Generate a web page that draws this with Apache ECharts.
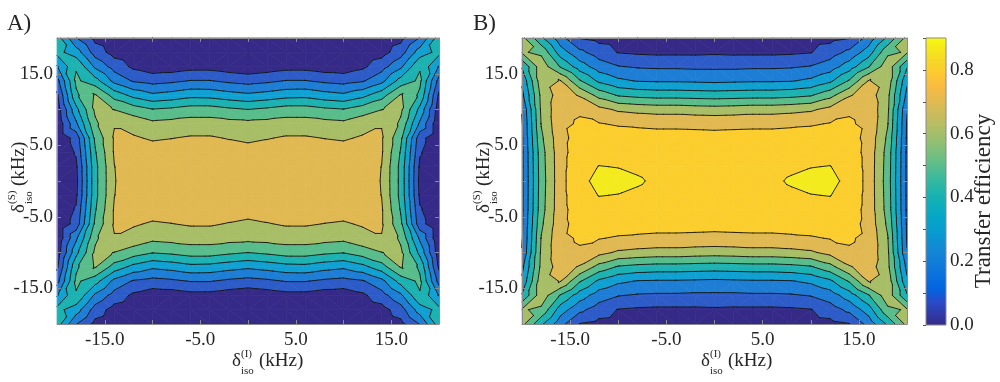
<!DOCTYPE html>
<html><head><meta charset="utf-8">
<script src="https://cdn.jsdelivr.net/npm/echarts@6/dist/echarts.min.js"></script>
<style>html,body{margin:0;padding:0;background:#fff}#c{width:1000px;height:382px}</style>
</head><body><div id="c"></div>
<script>
// grid coordinates (kHz)
const xVals = [-20,-18,-16,-14,-12,-10,-8,-6,-4,-2,0,2,4,6,8,10,12,14,16,18,20];
const yVals = [20,18,16,14,12,10,8,6,4,2,0,-2,-4,-6,-8,-10,-12,-14,-16,-18,-20];

// Panel A transfer efficiency (rows follow yVals, columns follow xVals)
const effA = [
[0.45,0.205,0.07,0.03,0.02,0.015,0.015,0.015,0.015,0.015,0.015,0.015,0.015,0.015,0.015,0.015,0.02,0.03,0.07,0.205,0.45],
[0.43,0.35,0.155,0.06,0.03,0.02,0.02,0.02,0.02,0.02,0.02,0.02,0.02,0.02,0.02,0.02,0.03,0.06,0.155,0.35,0.43],
[0.29,0.49,0.28,0.16,0.08,0.04,0.045,0.065,0.065,0.045,0.03,0.045,0.065,0.065,0.045,0.04,0.08,0.16,0.28,0.49,0.29],
[0.16,0.52,0.44,0.27,0.19,0.165,0.18,0.205,0.205,0.18,0.163,0.18,0.205,0.205,0.18,0.165,0.19,0.27,0.44,0.52,0.16],
[0.08,0.48,0.61,0.46,0.37,0.32,0.34,0.37,0.365,0.34,0.32,0.34,0.365,0.37,0.34,0.32,0.37,0.46,0.61,0.48,0.08],
[0.04,0.37,0.62,0.598,0.55,0.505,0.52,0.545,0.545,0.52,0.501,0.52,0.545,0.545,0.52,0.505,0.55,0.598,0.62,0.37,0.04],
[0.02,0.28,0.58,0.695,0.665,0.625,0.635,0.645,0.645,0.635,0.63,0.635,0.645,0.645,0.635,0.625,0.665,0.695,0.58,0.28,0.02],
[0.02,0.136,0.52,0.71,0.71,0.69,0.698,0.71,0.71,0.695,0.68,0.695,0.71,0.71,0.698,0.69,0.71,0.71,0.52,0.136,0.02],
[0.02,0.11,0.49,0.71,0.745,0.74,0.745,0.75,0.75,0.745,0.74,0.745,0.75,0.75,0.745,0.74,0.745,0.71,0.49,0.11,0.02],
[0.02,0.08,0.47,0.698,0.755,0.765,0.77,0.77,0.77,0.767,0.765,0.767,0.77,0.77,0.77,0.765,0.755,0.698,0.47,0.08,0.02],
[0.02,0.07,0.47,0.695,0.755,0.765,0.77,0.775,0.775,0.772,0.77,0.772,0.775,0.775,0.77,0.765,0.755,0.695,0.47,0.07,0.02],
[0.02,0.08,0.47,0.698,0.755,0.765,0.77,0.77,0.77,0.767,0.765,0.767,0.77,0.77,0.77,0.765,0.755,0.698,0.47,0.08,0.02],
[0.02,0.11,0.49,0.71,0.745,0.74,0.745,0.75,0.75,0.745,0.74,0.745,0.75,0.75,0.745,0.74,0.745,0.71,0.49,0.11,0.02],
[0.02,0.136,0.52,0.71,0.71,0.69,0.698,0.71,0.71,0.695,0.68,0.695,0.71,0.71,0.698,0.69,0.71,0.71,0.52,0.136,0.02],
[0.02,0.28,0.58,0.695,0.665,0.625,0.635,0.645,0.645,0.635,0.63,0.635,0.645,0.645,0.635,0.625,0.665,0.695,0.58,0.28,0.02],
[0.04,0.37,0.62,0.598,0.55,0.505,0.52,0.545,0.545,0.52,0.501,0.52,0.545,0.545,0.52,0.505,0.55,0.598,0.62,0.37,0.04],
[0.08,0.48,0.61,0.46,0.37,0.32,0.34,0.37,0.365,0.34,0.32,0.34,0.365,0.37,0.34,0.32,0.37,0.46,0.61,0.48,0.08],
[0.16,0.52,0.44,0.27,0.19,0.165,0.18,0.205,0.205,0.18,0.163,0.18,0.205,0.205,0.18,0.165,0.19,0.27,0.44,0.52,0.16],
[0.29,0.49,0.28,0.16,0.08,0.04,0.045,0.065,0.065,0.045,0.03,0.045,0.065,0.065,0.045,0.04,0.08,0.16,0.28,0.49,0.29],
[0.43,0.35,0.155,0.06,0.03,0.02,0.02,0.02,0.02,0.02,0.02,0.02,0.02,0.02,0.02,0.02,0.03,0.06,0.155,0.35,0.43],
[0.45,0.205,0.07,0.03,0.02,0.015,0.015,0.015,0.015,0.015,0.015,0.015,0.015,0.015,0.015,0.015,0.02,0.03,0.07,0.205,0.45]
];

// Panel B transfer efficiency
const effB = [
[0.63,0.42,0.235,0.095,0.07,0.06,0.055,0.05,0.05,0.05,0.05,0.05,0.05,0.05,0.055,0.06,0.07,0.095,0.235,0.42,0.63],
[0.61,0.58,0.35,0.225,0.15,0.095,0.085,0.08,0.08,0.08,0.085,0.08,0.08,0.08,0.085,0.095,0.15,0.225,0.35,0.58,0.61],
[0.41,0.66,0.49,0.35,0.25,0.205,0.19,0.185,0.185,0.18,0.18,0.18,0.185,0.185,0.19,0.205,0.25,0.35,0.49,0.66,0.41],
[0.32,0.66,0.705,0.51,0.38,0.32,0.295,0.29,0.29,0.285,0.28,0.285,0.29,0.29,0.295,0.32,0.38,0.51,0.705,0.66,0.32],
[0.27,0.625,0.75,0.69,0.565,0.49,0.47,0.46,0.46,0.455,0.45,0.455,0.46,0.46,0.47,0.49,0.565,0.69,0.75,0.625,0.27],
[0.205,0.617,0.775,0.79,0.73,0.685,0.67,0.66,0.66,0.65,0.645,0.65,0.66,0.66,0.67,0.685,0.73,0.79,0.775,0.617,0.205],
[0.19,0.605,0.78,0.81,0.805,0.79,0.785,0.78,0.78,0.778,0.775,0.778,0.78,0.78,0.785,0.79,0.805,0.81,0.78,0.605,0.19],
[0.185,0.58,0.77,0.84,0.85,0.85,0.84,0.835,0.835,0.832,0.83,0.832,0.835,0.835,0.84,0.85,0.85,0.84,0.77,0.58,0.185],
[0.18,0.56,0.765,0.855,0.875,0.87,0.86,0.85,0.845,0.84,0.84,0.84,0.845,0.85,0.86,0.87,0.875,0.855,0.765,0.56,0.18],
[0.18,0.555,0.765,0.87,0.902,0.898,0.885,0.87,0.86,0.855,0.855,0.855,0.86,0.87,0.885,0.898,0.902,0.87,0.765,0.555,0.18],
[0.18,0.55,0.765,0.885,0.915,0.92,0.91,0.885,0.87,0.865,0.86,0.865,0.87,0.885,0.91,0.92,0.915,0.885,0.765,0.55,0.18],
[0.18,0.555,0.765,0.87,0.902,0.898,0.885,0.87,0.86,0.855,0.855,0.855,0.86,0.87,0.885,0.898,0.902,0.87,0.765,0.555,0.18],
[0.18,0.56,0.765,0.855,0.875,0.87,0.86,0.85,0.845,0.84,0.84,0.84,0.845,0.85,0.86,0.87,0.875,0.855,0.765,0.56,0.18],
[0.185,0.58,0.77,0.84,0.85,0.85,0.84,0.835,0.835,0.832,0.83,0.832,0.835,0.835,0.84,0.85,0.85,0.84,0.77,0.58,0.185],
[0.19,0.605,0.78,0.81,0.805,0.79,0.785,0.78,0.78,0.778,0.775,0.778,0.78,0.78,0.785,0.79,0.805,0.81,0.78,0.605,0.19],
[0.205,0.617,0.775,0.79,0.73,0.685,0.67,0.66,0.66,0.65,0.645,0.65,0.66,0.66,0.67,0.685,0.73,0.79,0.775,0.617,0.205],
[0.27,0.625,0.75,0.69,0.565,0.49,0.47,0.46,0.46,0.455,0.45,0.455,0.46,0.46,0.47,0.49,0.565,0.69,0.75,0.625,0.27],
[0.32,0.66,0.705,0.51,0.38,0.32,0.295,0.29,0.29,0.285,0.28,0.285,0.29,0.29,0.295,0.32,0.38,0.51,0.705,0.66,0.32],
[0.41,0.66,0.49,0.35,0.25,0.205,0.19,0.185,0.185,0.18,0.18,0.18,0.185,0.185,0.19,0.205,0.25,0.35,0.49,0.66,0.41],
[0.61,0.58,0.35,0.225,0.15,0.095,0.085,0.08,0.08,0.08,0.085,0.08,0.08,0.08,0.085,0.095,0.15,0.225,0.35,0.58,0.61],
[0.63,0.42,0.235,0.095,0.07,0.06,0.055,0.05,0.05,0.05,0.05,0.05,0.05,0.05,0.055,0.06,0.07,0.095,0.235,0.42,0.63]
];

const contourLevels = [0.1,0.2,0.3,0.4,0.5,0.6,0.7,0.8,0.9];
const xTickLabels = [-15,-5,5,15];
const yTickLabels = [-15,-5,5,15];
const cbarTickLabels = [0,0.2,0.4,0.6,0.8];
const cbarMin = 0, cbarMax = 0.9;

// styles
const bandColors = ['#352A87','#2D5BC8','#1E7ED5','#10A0D2','#1DB2B2','#59BD8B','#A8BE66','#E1B952','#FBCE2E','#F4EB1E'];
const parulaStops = ['#352A87','#2B4AC7','#0363E1','#0D75DC','#1485D4','#0998D1','#06A7C6','#15B1B4','#38B99E','#65BE86','#91BF73','#B7BD64','#D9BA56','#F8BA44','#FEC832','#F7D826','#F5EB18','#F9FB0E'];
const parulaPos = [0,0.079,0.127,0.19,0.254,0.317,0.381,0.444,0.508,0.571,0.635,0.698,0.762,0.825,0.873,0.921,0.968,1];
const serif = 'Liberation Serif';
const frameColor = '#8a8a8a';
const textColor = '#262626';

function clip(poly, level, keepAbove) {
  const out = [];
  for (let k = 0; k < poly.length; k++) {
    const a = poly[k], b = poly[(k + 1) % poly.length];
    const ain = keepAbove ? a[2] >= level : a[2] <= level;
    const bin = keepAbove ? b[2] >= level : b[2] <= level;
    if (ain) out.push(a);
    if (ain !== bin) {
      const t = (level - a[2]) / (b[2] - a[2]);
      out.push([a[0] + t * (b[0] - a[0]), a[1] + t * (b[1] - a[1]), level]);
    }
  }
  return out;
}

function makeRender(grid) {
  const n = xVals.length - 1;
  return function (params, api) {
    const i = params.dataIndex % n, j = Math.floor(params.dataIndex / n);
    const P = (ii, jj) => { const p = api.coord([xVals[ii], yVals[jj]]); return [p[0], p[1], grid[jj][ii]]; };
    const tl = P(i, j), tr = P(i + 1, j), br = P(i + 1, j + 1), bl = P(i, j + 1);
    const tris = (tl[2] + br[2] >= tr[2] + bl[2]) ? [[tl, tr, br], [tl, br, bl]] : [[tl, tr, bl], [tr, br, bl]];
    const children = [];
    for (const tri of tris) {
      for (let b = 0; b < bandColors.length; b++) {
        let poly = tri;
        if (b > 0) poly = clip(poly, contourLevels[b - 1], true);
        if (poly.length >= 3 && b < contourLevels.length) poly = clip(poly, contourLevels[b], false);
        if (poly.length >= 3) {
          children.push({ type: 'polygon', shape: { points: poly.map(p => [p[0], p[1]]) },
            style: { fill: bandColors[b], stroke: bandColors[b], lineWidth: 0.7 } });
        }
      }
    }
    for (const tri of tris) {
      for (const L of contourLevels) {
        const pts = [];
        for (let k = 0; k < 3; k++) {
          const a = tri[k], c = tri[(k + 1) % 3];
          if ((a[2] >= L) !== (c[2] >= L)) {
            const t = (L - a[2]) / (c[2] - a[2]);
            pts.push([a[0] + t * (c[0] - a[0]), a[1] + t * (c[1] - a[1])]);
          }
        }
        if (pts.length === 2) {
          children.push({ type: 'line', z2: 10, shape: { x1: pts[0][0], y1: pts[0][1], x2: pts[1][0], y2: pts[1][1] },
            style: { stroke: '#111', lineWidth: 0.9, lineCap: 'round' } });
        }
      }
    }
    return { type: 'group', children };
  };
}

const cells = [];
for (let j = 0; j < yVals.length - 1; j++) for (let i = 0; i < xVals.length - 1; i++) cells.push([xVals[i], yVals[j]]);

function fmt(list) { return v => list.includes(v) ? v.toFixed(1) : ''; }

function xAx(gridIndex, pos, labels) {
  return { type: 'value', gridIndex, position: pos, min: -20, max: 20, interval: 5, z: 5,
    axisLine: { show: true, onZero: false, lineStyle: { color: frameColor, width: 1 } },
    axisTick: { show: true, inside: true, length: 4, lineStyle: { color: frameColor } },
    axisLabel: { show: labels, margin: 7, fontFamily: serif, fontSize: 19, color: textColor, formatter: fmt(xTickLabels) },
    splitLine: { show: false } };
}
function yAx(gridIndex, pos, labels) {
  return { type: 'value', gridIndex, position: pos, min: -20, max: 20, interval: 5, z: 5,
    axisLine: { show: true, onZero: false, lineStyle: { color: frameColor, width: 1 } },
    axisTick: { show: true, inside: true, length: 4, lineStyle: { color: frameColor } },
    axisLabel: { show: labels, margin: 4, fontFamily: serif, fontSize: 19, color: textColor, formatter: fmt(yTickLabels) },
    splitLine: { show: false } };
}

function txt(text, x, y, size, extra) {
  return Object.assign({ type: 'text', x, y, silent: true,
    style: { text, fontSize: size, fontFamily: serif, fill: textColor, verticalAlign: 'middle', align: 'left' } }, extra || {});
}
function deltaTitle(x, y, sup, rot) {
  return { type: 'group', x, y, rotation: rot, silent: true, children: [
    txt('δ', 0, -6.5, 19), txt(sup, 9, -13.7, 11), txt('iso', 9, 3.3, 11), txt('(kHz)', 27, -6.5, 19)
  ] };
}

const chart = echarts.init(document.getElementById('c'), null, { renderer: 'canvas' });
chart.setOption({
  animation: false,
  backgroundColor: '#fff',
  textStyle: { fontFamily: serif },
  grid: [
    { left: 57, top: 38, width: 382, height: 286 },
    { left: 522, top: 38, width: 385, height: 286 },
    { left: 926, top: 38, width: 20, height: 287 }
  ],
  xAxis: [
    xAx(0, 'bottom', true), xAx(0, 'top', false),
    xAx(1, 'bottom', true), xAx(1, 'top', false),
    { type: 'value', gridIndex: 2, min: 0, max: 1, show: false }
  ],
  yAxis: [
    yAx(0, 'left', true), yAx(0, 'right', false),
    yAx(1, 'left', true), yAx(1, 'right', false),
    { type: 'value', gridIndex: 2, position: 'right', min: cbarMin, max: cbarMax, interval: 0.1, z: 5,
      axisLine: { show: false },
      axisTick: { show: true, inside: true, length: 3, lineStyle: { color: '#555' } },
      axisLabel: { margin: 4, fontFamily: serif, fontSize: 19, color: textColor,
        formatter: v => cbarTickLabels.includes(Math.round(v * 10) / 10) ? v.toFixed(1) : '' },
      splitLine: { show: false } }
  ],
  series: [
    { type: 'custom', xAxisIndex: 0, yAxisIndex: 0, data: cells, renderItem: makeRender(effA), silent: true, z: 1 },
    { type: 'custom', xAxisIndex: 2, yAxisIndex: 2, data: cells, renderItem: makeRender(effB), silent: true, z: 1 },
    { type: 'custom', xAxisIndex: 4, yAxisIndex: 4, data: [[0, cbarMin], [1, cbarMax]], silent: true, z: 1,
      renderItem: function (params, api) {
        if (params.dataIndex !== 0) return null;
        const p0 = api.coord([0, cbarMin]), p1 = api.coord([1, cbarMax]);
        return { type: 'rect', shape: { x: p0[0], y: p1[1], width: p1[0] - p0[0], height: p0[1] - p1[1] },
          style: { fill: new echarts.graphic.LinearGradient(0, 1, 0, 0,
            parulaStops.map((c, k) => ({ offset: parulaPos[k], color: c }))), stroke: frameColor, lineWidth: 1 } };
      } }
  ],
  graphic: [
    txt('A)', 7, 24, 23),
    txt('B)', 473, 24, 23),
    deltaTitle(232, 368, '(I)', 0),
    deltaTitle(701, 368, '(I)', 0),
    deltaTitle(26, 213, '(S)', Math.PI / 2),
    deltaTitle(491, 213, '(S)', Math.PI / 2),
    { type: 'group', x: 984, y: 201, rotation: Math.PI / 2, silent: true, children: [
      { type: 'text', x: 0, y: 0, style: { text: 'Transfer efficiency', fontSize: 23, fontFamily: serif, fill: textColor, align: 'center', verticalAlign: 'middle' } }
    ] }
  ]
});
</script>
</body></html>
